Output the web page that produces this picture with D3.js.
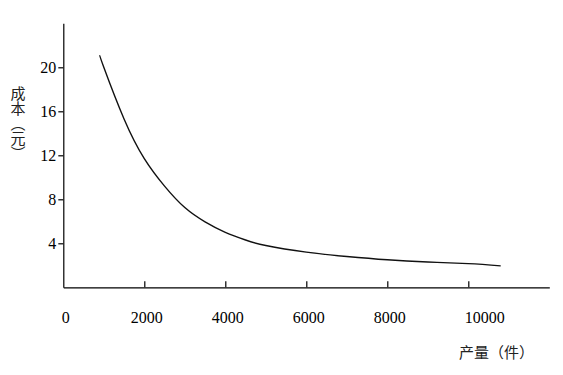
<!DOCTYPE html>
<html>
<head>
<meta charset="utf-8">
<script src="https://cdn.jsdelivr.net/npm/d3@7"></script>
<style>
  html, body { margin: 0; padding: 0; background: #fff; }
  svg { display: block; }
</style>
</head>
<body>
<svg id="chart" width="563" height="375"></svg>
<script>
// ---- data ----
const quantity = [900, 1000, 1500, 2000, 2500, 3000, 3500, 4000, 4500, 5000, 6000, 7000, 8000, 9000, 10000, 10800];
const cost     = [21.1, 20.0, 15.3, 11.7, 9.2, 7.25, 5.95, 5.0, 4.3, 3.8, 3.2, 2.8, 2.5, 2.3, 2.15, 1.95];
const xTicks = [0, 2000, 4000, 6000, 8000, 10000];
const yTicks = [4, 8, 12, 16, 20];
const xTitle = "产量（件）";
const yTitle = "成本（元）";

// ---- layout ----
const svg = d3.select("#chart");
const x = d3.scaleLinear().domain([0, 12000]).range([63.3, 549.3]);
const y = d3.scaleLinear().domain([0, 24]).range([287.3, 23.3]);

const numFont = "'Liberation Serif', 'Times New Roman', serif";
const cjkFont = "'Noto Sans CJK SC', sans-serif";

// x axis
const gx = svg.append("g")
  .attr("transform", `translate(0,${y(0)})`)
  .call(d3.axisBottom(x).tickValues(xTicks).tickSizeInner(-6).tickSizeOuter(0).tickPadding(24).tickFormat(d3.format("d")));
gx.selectAll("path, line").attr("stroke", "#000").attr("stroke-width", 1.2);
gx.selectAll(".tick").filter(d => d === 0).select("line").remove();
gx.selectAll("text")
  .attr("font-family", numFont).attr("font-size", 16).attr("fill", "#000")
  .attr("dx", d => d === 10000 ? 16 : 2);

// y axis
const gy = svg.append("g")
  .attr("transform", `translate(${x(0)},0)`)
  .call(d3.axisLeft(y).tickValues(yTicks).tickSizeInner(5).tickSizeOuter(0).tickPadding(2));
gy.selectAll("path, line").attr("stroke", "#000").attr("stroke-width", 1.2);
gy.selectAll("text")
  .attr("font-family", numFont).attr("font-size", 16).attr("fill", "#000");

// curve
const pts = quantity.map((q, i) => [q, cost[i]]);
svg.append("path")
  .datum(pts)
  .attr("fill", "none")
  .attr("stroke", "#111")
  .attr("stroke-width", 1.4)
  .attr("d", d3.line().x(d => x(d[0])).y(d => y(d[1])).curve(d3.curveNatural));

// axis titles
svg.append("text")
  .attr("x", 459).attr("y", 358)
  .attr("font-family", cjkFont).attr("font-size", 15).attr("fill", "#222")
  .text(xTitle);

svg.append("text")
  .attr("x", 18).attr("y", 86)
  .attr("font-family", cjkFont).attr("font-size", 15).attr("fill", "#222")
  .style("writing-mode", "vertical-rl")
  .text(yTitle);
</script>
</body>
</html>
